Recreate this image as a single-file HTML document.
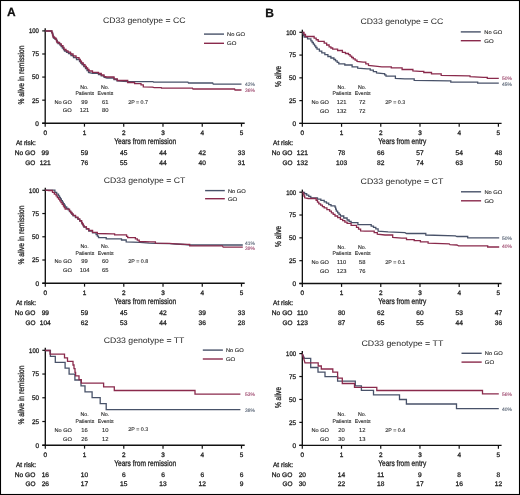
<!DOCTYPE html>
<html><head><meta charset="utf-8"><style>
html,body{margin:0;padding:0;background:#fff;}
svg{display:block;will-change:transform;}
text{stroke-width:0.32px;text-rendering:geometricPrecision;}
</style></head><body>
<svg width="520" height="495" viewBox="0 0 520 495" style="font-family:'Liberation Sans', sans-serif">
<rect x="0" y="0" width="520" height="495" fill="#fff"/>
<text x="6.9" y="16.4" font-size="12" font-weight="bold" fill="#111" stroke="#111" style="stroke-width:0.25px">A</text>
<text x="103.00" y="22.70" font-size="8.0" textLength="82.4" lengthAdjust="spacingAndGlyphs" fill="#2a2a2a" stroke="#2a2a2a" style="stroke-width:0.02px">CD33 genotype = CC</text>
<line x1="204" y1="34.1" x2="224" y2="34.1" stroke="#485269" stroke-width="1.4"/>
<line x1="204" y1="43.3" x2="224" y2="43.3" stroke="#8a2a4c" stroke-width="1.4"/>
<text x="227.00" y="36.20" font-size="5.4" textLength="17.9" lengthAdjust="spacingAndGlyphs" fill="#2a2a2a" stroke="#2a2a2a" style="stroke-width:0.12px">No GO</text>
<text x="227.00" y="45.30" font-size="5.4" textLength="9.3" lengthAdjust="spacingAndGlyphs" fill="#2a2a2a" stroke="#2a2a2a" style="stroke-width:0.12px">GO</text>
<line x1="45.2" y1="28.299999999999997" x2="45.2" y2="123.95" stroke="#111" stroke-width="1.35"/>
<line x1="42.2" y1="123.25" x2="244.7" y2="123.25" stroke="#111" stroke-width="1.35"/>
<line x1="42.2" y1="30.90" x2="45.2" y2="30.90" stroke="#111" stroke-width="1.2"/>
<text x="38.90" y="33.30" font-size="6.7" text-anchor="end" textLength="9.9" lengthAdjust="spacingAndGlyphs" fill="#2a2a2a" stroke="#2a2a2a">100</text>
<line x1="42.2" y1="53.99" x2="45.2" y2="53.99" stroke="#111" stroke-width="1.2"/>
<text x="38.90" y="56.39" font-size="6.7" text-anchor="end" textLength="7.0" lengthAdjust="spacingAndGlyphs" fill="#2a2a2a" stroke="#2a2a2a">75</text>
<line x1="42.2" y1="77.07" x2="45.2" y2="77.07" stroke="#111" stroke-width="1.2"/>
<text x="38.90" y="79.47" font-size="6.7" text-anchor="end" textLength="7.0" lengthAdjust="spacingAndGlyphs" fill="#2a2a2a" stroke="#2a2a2a">50</text>
<line x1="42.2" y1="100.16" x2="45.2" y2="100.16" stroke="#111" stroke-width="1.2"/>
<text x="38.90" y="102.56" font-size="6.7" text-anchor="end" textLength="7.0" lengthAdjust="spacingAndGlyphs" fill="#2a2a2a" stroke="#2a2a2a">25</text>
<line x1="42.2" y1="123.25" x2="45.2" y2="123.25" stroke="#111" stroke-width="1.2"/>
<text x="38.90" y="125.65" font-size="6.7" text-anchor="end" textLength="3.6" lengthAdjust="spacingAndGlyphs" fill="#2a2a2a" stroke="#2a2a2a">0</text>
<line x1="45.20" y1="123.25" x2="45.20" y2="126.65" stroke="#111" stroke-width="1.2"/>
<text x="45.20" y="134.85" font-size="6.4" text-anchor="middle" fill="#2a2a2a" stroke="#2a2a2a">0</text>
<line x1="84.46" y1="123.25" x2="84.46" y2="126.65" stroke="#111" stroke-width="1.2"/>
<text x="84.46" y="134.85" font-size="6.4" text-anchor="middle" fill="#2a2a2a" stroke="#2a2a2a">1</text>
<line x1="123.72" y1="123.25" x2="123.72" y2="126.65" stroke="#111" stroke-width="1.2"/>
<text x="123.72" y="134.85" font-size="6.4" text-anchor="middle" fill="#2a2a2a" stroke="#2a2a2a">2</text>
<line x1="162.98" y1="123.25" x2="162.98" y2="126.65" stroke="#111" stroke-width="1.2"/>
<text x="162.98" y="134.85" font-size="6.4" text-anchor="middle" fill="#2a2a2a" stroke="#2a2a2a">3</text>
<line x1="202.24" y1="123.25" x2="202.24" y2="126.65" stroke="#111" stroke-width="1.2"/>
<text x="202.24" y="134.85" font-size="6.4" text-anchor="middle" fill="#2a2a2a" stroke="#2a2a2a">4</text>
<line x1="241.50" y1="123.25" x2="241.50" y2="126.65" stroke="#111" stroke-width="1.2"/>
<text x="241.50" y="134.85" font-size="6.4" text-anchor="middle" fill="#2a2a2a" stroke="#2a2a2a">5</text>
<text x="114.20" y="143.75" font-size="8.2" textLength="62.0" lengthAdjust="spacingAndGlyphs" fill="#2a2a2a" stroke="#2a2a2a">Years from remission</text>
<text transform="translate(23.8,75) rotate(-90)" x="0" y="0" font-size="8.4" text-anchor="middle" textLength="59" lengthAdjust="spacingAndGlyphs" fill="#2a2a2a" stroke="#2a2a2a">% alive in remission</text>
<polyline points="45.50,31.00 50.70,31.00 51.60,31.00 51.60,32.50 52.50,32.50 52.50,34.00 53.00,34.00 53.00,36.00 53.50,36.00 53.50,38.00 55.00,38.00 55.00,39.25 56.50,39.25 56.50,40.50 57.25,40.50 57.25,42.00 58.00,42.00 58.00,43.50 60.00,43.50 60.00,45.00 61.17,45.00 61.17,46.50 62.33,46.50 62.33,48.00 63.50,48.00 63.50,49.50 64.50,49.50 64.50,51.00 66.50,51.00 66.50,52.25 68.50,52.25 68.50,53.50 71.00,53.50 71.00,55.50 73.50,55.50 73.50,57.50 76.50,57.50 76.50,59.50 79.50,59.50 79.50,61.50 80.75,61.50 80.75,63.00 82.00,63.00 82.00,64.50 83.75,64.50 83.75,66.50 85.50,66.50 85.50,68.50 87.00,68.50 87.00,70.50 88.50,70.50 88.50,72.50 92.50,73.30 98.50,73.30 98.50,74.50 101.25,74.50 101.25,75.90 104.00,75.90 104.00,77.30 107.00,78.00 114.00,78.00 114.00,79.50 117.00,79.50 117.00,81.00 127.70,81.60 153.00,81.60 153.60,82.20 187.90,82.20 188.50,83.00 212.70,83.00 213.30,84.20 241.50,84.20" fill="none" stroke="#485269" stroke-width="1.3" stroke-linejoin="miter"/>
<polyline points="45.50,31.00 50.70,31.00 52.00,31.00 52.00,33.00 52.50,33.00 52.50,35.00 53.00,35.00 53.00,37.00 54.50,37.00 54.50,38.25 56.00,38.25 56.00,39.50 56.50,39.50 56.50,41.00 57.00,41.00 57.00,42.50 59.50,42.50 59.50,43.80 61.25,43.80 61.25,45.55 63.00,45.55 63.00,47.30 64.00,47.30 64.00,49.50 66.00,49.50 66.00,50.85 68.00,50.85 68.00,52.20 70.50,52.20 70.50,54.00 73.00,54.00 73.00,55.80 76.00,55.80 76.00,57.55 79.00,57.55 79.00,59.30 80.25,59.30 80.25,61.15 81.50,61.15 81.50,63.00 83.25,63.00 83.25,64.75 85.00,64.75 85.00,66.50 86.33,66.50 86.33,68.00 87.67,68.00 87.67,69.50 89.00,69.50 89.00,71.00 92.50,71.00 92.50,72.30 98.50,72.30 98.50,73.50 101.25,73.50 101.25,75.00 104.00,75.00 104.00,76.50 107.00,77.00 114.00,77.00 114.00,78.80 117.30,78.80 117.30,80.50 127.70,80.50 127.70,82.50 134.60,82.50 134.60,83.60 141.00,83.60 141.00,84.80 143.30,84.80 143.30,86.80 152.50,87.10 154.20,87.70 161.30,87.70 161.50,88.20 192.50,88.20 193.00,89.00 234.60,89.00 235.00,90.00 241.50,90.00" fill="none" stroke="#8a2a4c" stroke-width="1.3" stroke-linejoin="miter"/>
<text x="245.10" y="85.60" font-size="5.0" textLength="9.8" lengthAdjust="spacingAndGlyphs" fill="#4e5a6c" stroke="#4e5a6c" style="stroke-width:0.1px">42%</text>
<text x="245.10" y="91.70" font-size="5.0" textLength="9.8" lengthAdjust="spacingAndGlyphs" fill="#9a4068" stroke="#9a4068" style="stroke-width:0.1px">36%</text>
<text x="84.40" y="88.70" font-size="5.3" text-anchor="middle" fill="#2a2a2a" stroke="#2a2a2a" style="stroke-width:0.12px">No.</text>
<text x="84.80" y="95.10" font-size="5.3" text-anchor="middle" textLength="18.8" lengthAdjust="spacingAndGlyphs" fill="#2a2a2a" stroke="#2a2a2a" style="stroke-width:0.12px">Patients</text>
<text x="105.00" y="88.70" font-size="5.3" text-anchor="middle" fill="#2a2a2a" stroke="#2a2a2a" style="stroke-width:0.12px">No.</text>
<text x="105.50" y="95.10" font-size="5.3" text-anchor="middle" textLength="15.8" lengthAdjust="spacingAndGlyphs" fill="#2a2a2a" stroke="#2a2a2a" style="stroke-width:0.12px">Events</text>
<text x="71.80" y="103.70" font-size="5.3" text-anchor="end" textLength="17.4" lengthAdjust="spacingAndGlyphs" fill="#2a2a2a" stroke="#2a2a2a" style="stroke-width:0.12px">No GO</text>
<text x="71.80" y="112.20" font-size="5.3" text-anchor="end" textLength="9.0" lengthAdjust="spacingAndGlyphs" fill="#2a2a2a" stroke="#2a2a2a" style="stroke-width:0.12px">GO</text>
<text x="84.50" y="103.90" font-size="5.8" text-anchor="middle" fill="#2a2a2a" stroke="#2a2a2a" style="stroke-width:0.12px">99</text>
<text x="84.50" y="112.40" font-size="5.8" text-anchor="middle" fill="#2a2a2a" stroke="#2a2a2a" style="stroke-width:0.12px">121</text>
<text x="105.20" y="103.90" font-size="5.8" text-anchor="middle" fill="#2a2a2a" stroke="#2a2a2a" style="stroke-width:0.12px">61</text>
<text x="105.20" y="112.40" font-size="5.8" text-anchor="middle" fill="#2a2a2a" stroke="#2a2a2a" style="stroke-width:0.12px">80</text>
<text x="128.20" y="103.50" font-size="5.3" textLength="19.8" lengthAdjust="spacingAndGlyphs" fill="#2a2a2a" stroke="#2a2a2a" style="stroke-width:0.12px">2P = 0.7</text>
<text x="15.90" y="144.80" font-size="6.6" textLength="20" lengthAdjust="spacingAndGlyphs" fill="#2a2a2a" stroke="#2a2a2a">At risk:</text>
<text x="35.30" y="155.10" font-size="6.6" text-anchor="end" textLength="20.6" lengthAdjust="spacingAndGlyphs" fill="#2a2a2a" stroke="#2a2a2a">No GO</text>
<text x="35.30" y="165.00" font-size="6.6" text-anchor="end" textLength="10" lengthAdjust="spacingAndGlyphs" fill="#2a2a2a" stroke="#2a2a2a">GO</text>
<text x="45.20" y="155.10" font-size="6.6" text-anchor="middle" fill="#2a2a2a" stroke="#2a2a2a">99</text>
<text x="45.20" y="165.00" font-size="6.6" text-anchor="middle" fill="#2a2a2a" stroke="#2a2a2a">121</text>
<text x="84.46" y="155.10" font-size="6.6" text-anchor="middle" fill="#2a2a2a" stroke="#2a2a2a">59</text>
<text x="84.46" y="165.00" font-size="6.6" text-anchor="middle" fill="#2a2a2a" stroke="#2a2a2a">76</text>
<text x="123.72" y="155.10" font-size="6.6" text-anchor="middle" fill="#2a2a2a" stroke="#2a2a2a">45</text>
<text x="123.72" y="165.00" font-size="6.6" text-anchor="middle" fill="#2a2a2a" stroke="#2a2a2a">55</text>
<text x="162.98" y="155.10" font-size="6.6" text-anchor="middle" fill="#2a2a2a" stroke="#2a2a2a">44</text>
<text x="162.98" y="165.00" font-size="6.6" text-anchor="middle" fill="#2a2a2a" stroke="#2a2a2a">44</text>
<text x="202.24" y="155.10" font-size="6.6" text-anchor="middle" fill="#2a2a2a" stroke="#2a2a2a">42</text>
<text x="202.24" y="165.00" font-size="6.6" text-anchor="middle" fill="#2a2a2a" stroke="#2a2a2a">40</text>
<text x="241.50" y="155.10" font-size="6.6" text-anchor="middle" fill="#2a2a2a" stroke="#2a2a2a">33</text>
<text x="241.50" y="165.00" font-size="6.6" text-anchor="middle" fill="#2a2a2a" stroke="#2a2a2a">31</text>
<text x="103.70" y="182.70" font-size="8.0" textLength="81.7" lengthAdjust="spacingAndGlyphs" fill="#2a2a2a" stroke="#2a2a2a" style="stroke-width:0.02px">CD33 genotype = CT</text>
<line x1="205.1" y1="190.6" x2="224.8" y2="190.6" stroke="#485269" stroke-width="1.4"/>
<line x1="205.1" y1="198.7" x2="224.8" y2="198.7" stroke="#8a2a4c" stroke-width="1.4"/>
<text x="227.90" y="192.70" font-size="5.4" textLength="17.9" lengthAdjust="spacingAndGlyphs" fill="#2a2a2a" stroke="#2a2a2a" style="stroke-width:0.12px">No GO</text>
<text x="227.90" y="200.70" font-size="5.4" textLength="9.3" lengthAdjust="spacingAndGlyphs" fill="#2a2a2a" stroke="#2a2a2a" style="stroke-width:0.12px">GO</text>
<line x1="45.3" y1="187.70000000000002" x2="45.3" y2="283.95" stroke="#111" stroke-width="1.35"/>
<line x1="42.3" y1="283.25" x2="244.7" y2="283.25" stroke="#111" stroke-width="1.35"/>
<line x1="42.3" y1="190.30" x2="45.3" y2="190.30" stroke="#111" stroke-width="1.2"/>
<text x="39.00" y="192.70" font-size="6.7" text-anchor="end" textLength="9.9" lengthAdjust="spacingAndGlyphs" fill="#2a2a2a" stroke="#2a2a2a">100</text>
<line x1="42.3" y1="213.54" x2="45.3" y2="213.54" stroke="#111" stroke-width="1.2"/>
<text x="39.00" y="215.94" font-size="6.7" text-anchor="end" textLength="7.0" lengthAdjust="spacingAndGlyphs" fill="#2a2a2a" stroke="#2a2a2a">75</text>
<line x1="42.3" y1="236.78" x2="45.3" y2="236.78" stroke="#111" stroke-width="1.2"/>
<text x="39.00" y="239.18" font-size="6.7" text-anchor="end" textLength="7.0" lengthAdjust="spacingAndGlyphs" fill="#2a2a2a" stroke="#2a2a2a">50</text>
<line x1="42.3" y1="260.01" x2="45.3" y2="260.01" stroke="#111" stroke-width="1.2"/>
<text x="39.00" y="262.41" font-size="6.7" text-anchor="end" textLength="7.0" lengthAdjust="spacingAndGlyphs" fill="#2a2a2a" stroke="#2a2a2a">25</text>
<line x1="42.3" y1="283.25" x2="45.3" y2="283.25" stroke="#111" stroke-width="1.2"/>
<text x="39.00" y="285.65" font-size="6.7" text-anchor="end" textLength="3.6" lengthAdjust="spacingAndGlyphs" fill="#2a2a2a" stroke="#2a2a2a">0</text>
<line x1="45.30" y1="283.25" x2="45.30" y2="286.65" stroke="#111" stroke-width="1.2"/>
<text x="45.30" y="294.85" font-size="6.4" text-anchor="middle" fill="#2a2a2a" stroke="#2a2a2a">0</text>
<line x1="84.54" y1="283.25" x2="84.54" y2="286.65" stroke="#111" stroke-width="1.2"/>
<text x="84.54" y="294.85" font-size="6.4" text-anchor="middle" fill="#2a2a2a" stroke="#2a2a2a">1</text>
<line x1="123.78" y1="283.25" x2="123.78" y2="286.65" stroke="#111" stroke-width="1.2"/>
<text x="123.78" y="294.85" font-size="6.4" text-anchor="middle" fill="#2a2a2a" stroke="#2a2a2a">2</text>
<line x1="163.02" y1="283.25" x2="163.02" y2="286.65" stroke="#111" stroke-width="1.2"/>
<text x="163.02" y="294.85" font-size="6.4" text-anchor="middle" fill="#2a2a2a" stroke="#2a2a2a">3</text>
<line x1="202.26" y1="283.25" x2="202.26" y2="286.65" stroke="#111" stroke-width="1.2"/>
<text x="202.26" y="294.85" font-size="6.4" text-anchor="middle" fill="#2a2a2a" stroke="#2a2a2a">4</text>
<line x1="241.50" y1="283.25" x2="241.50" y2="286.65" stroke="#111" stroke-width="1.2"/>
<text x="241.50" y="294.85" font-size="6.4" text-anchor="middle" fill="#2a2a2a" stroke="#2a2a2a">5</text>
<text x="114.20" y="303.75" font-size="8.2" textLength="62.0" lengthAdjust="spacingAndGlyphs" fill="#2a2a2a" stroke="#2a2a2a">Years from remission</text>
<text transform="translate(23.8,235) rotate(-90)" x="0" y="0" font-size="8.4" text-anchor="middle" textLength="59" lengthAdjust="spacingAndGlyphs" fill="#2a2a2a" stroke="#2a2a2a">% alive in remission</text>
<polyline points="45.30,190.20 54.90,190.20 54.90,192.30 56.70,192.30 56.70,194.10 58.50,194.10 58.50,195.90 59.46,195.90 59.46,197.46 60.41,197.46 60.41,199.01 61.37,199.01 61.37,200.57 62.33,200.57 62.33,202.13 63.29,202.13 63.29,203.69 64.24,203.69 64.24,205.24 65.20,205.24 65.20,206.80 66.70,206.80 66.70,208.30 68.20,208.30 68.20,209.80 69.50,209.80 69.50,211.50 70.70,211.50 70.70,212.93 71.90,212.93 71.90,214.37 73.10,214.37 73.10,215.80 75.50,215.80 75.50,217.55 77.90,217.55 77.90,219.30 79.75,219.30 79.75,221.15 81.60,221.15 81.60,223.00 82.40,223.00 82.40,224.40 83.20,224.40 83.20,225.80 84.00,225.80 84.00,227.20 86.40,227.20 86.40,229.10 88.80,229.10 88.80,231.00 92.50,231.00 92.50,232.80 96.10,232.80 96.10,234.70 97.30,234.70 97.30,236.20 98.50,236.20 98.50,237.70 106.20,237.70 106.20,238.80 121.50,238.80 121.50,240.00 126.20,240.00 126.20,241.80 140.00,242.30 149.20,243.10 155.40,243.30 169.20,243.60 175.40,244.00 184.80,244.50 189.70,245.00 242.80,245.00" fill="none" stroke="#485269" stroke-width="1.3" stroke-linejoin="miter"/>
<polyline points="45.30,190.20 48.80,190.50 52.50,190.50 52.50,192.30 54.30,192.30 54.30,194.10 56.10,194.10 56.10,195.90 57.33,195.90 57.33,197.53 58.57,197.53 58.57,199.17 59.80,199.17 59.80,200.80 61.00,200.80 61.00,202.60 62.20,202.60 62.20,204.40 63.40,204.40 63.40,206.20 64.30,206.20 64.30,207.70 65.20,207.70 65.20,209.20 69.50,209.20 69.50,211.10 70.70,211.10 70.70,212.50 71.90,212.50 71.90,213.90 73.10,213.90 73.10,215.30 75.50,215.30 75.50,217.10 77.90,217.10 77.90,218.90 79.75,218.90 79.75,220.75 81.60,220.75 81.60,222.60 82.40,222.60 82.40,224.00 83.20,224.00 83.20,225.40 84.00,225.40 84.00,226.80 86.40,226.80 86.40,228.65 88.80,228.65 88.80,230.50 92.50,230.50 92.50,232.30 97.30,232.30 97.30,233.50 112.30,233.80 114.60,233.80 114.60,234.90 125.40,234.90 126.55,234.90 126.55,236.30 127.70,236.30 127.70,237.70 135.40,237.70 135.40,238.80 137.30,238.80 137.30,240.15 139.20,240.15 139.20,241.50 150.80,241.80 155.40,241.80 155.40,243.10 169.20,243.40 175.40,243.80 184.80,244.40 189.70,244.40 189.70,245.80 222.40,245.80 223.20,247.20 242.80,247.20" fill="none" stroke="#8a2a4c" stroke-width="1.3" stroke-linejoin="miter"/>
<text x="245.10" y="244.80" font-size="5.0" textLength="9.8" lengthAdjust="spacingAndGlyphs" fill="#4e5a6c" stroke="#4e5a6c" style="stroke-width:0.1px">41%</text>
<text x="245.10" y="249.70" font-size="5.0" textLength="9.8" lengthAdjust="spacingAndGlyphs" fill="#9a4068" stroke="#9a4068" style="stroke-width:0.1px">39%</text>
<text x="84.50" y="248.20" font-size="5.3" text-anchor="middle" fill="#2a2a2a" stroke="#2a2a2a" style="stroke-width:0.12px">No.</text>
<text x="84.90" y="254.60" font-size="5.3" text-anchor="middle" textLength="18.8" lengthAdjust="spacingAndGlyphs" fill="#2a2a2a" stroke="#2a2a2a" style="stroke-width:0.12px">Patients</text>
<text x="105.10" y="248.20" font-size="5.3" text-anchor="middle" fill="#2a2a2a" stroke="#2a2a2a" style="stroke-width:0.12px">No.</text>
<text x="105.60" y="254.60" font-size="5.3" text-anchor="middle" textLength="15.8" lengthAdjust="spacingAndGlyphs" fill="#2a2a2a" stroke="#2a2a2a" style="stroke-width:0.12px">Events</text>
<text x="71.90" y="263.20" font-size="5.3" text-anchor="end" textLength="17.4" lengthAdjust="spacingAndGlyphs" fill="#2a2a2a" stroke="#2a2a2a" style="stroke-width:0.12px">No GO</text>
<text x="71.90" y="271.70" font-size="5.3" text-anchor="end" textLength="9.0" lengthAdjust="spacingAndGlyphs" fill="#2a2a2a" stroke="#2a2a2a" style="stroke-width:0.12px">GO</text>
<text x="84.60" y="263.40" font-size="5.8" text-anchor="middle" fill="#2a2a2a" stroke="#2a2a2a" style="stroke-width:0.12px">99</text>
<text x="84.60" y="271.90" font-size="5.8" text-anchor="middle" fill="#2a2a2a" stroke="#2a2a2a" style="stroke-width:0.12px">104</text>
<text x="105.30" y="263.40" font-size="5.8" text-anchor="middle" fill="#2a2a2a" stroke="#2a2a2a" style="stroke-width:0.12px">60</text>
<text x="105.30" y="271.90" font-size="5.8" text-anchor="middle" fill="#2a2a2a" stroke="#2a2a2a" style="stroke-width:0.12px">65</text>
<text x="128.30" y="263.00" font-size="5.3" textLength="19.8" lengthAdjust="spacingAndGlyphs" fill="#2a2a2a" stroke="#2a2a2a" style="stroke-width:0.12px">2P = 0.8</text>
<text x="16.00" y="304.80" font-size="6.6" textLength="20" lengthAdjust="spacingAndGlyphs" fill="#2a2a2a" stroke="#2a2a2a">At risk:</text>
<text x="35.40" y="315.00" font-size="6.6" text-anchor="end" textLength="20.6" lengthAdjust="spacingAndGlyphs" fill="#2a2a2a" stroke="#2a2a2a">No GO</text>
<text x="35.40" y="324.80" font-size="6.6" text-anchor="end" textLength="10" lengthAdjust="spacingAndGlyphs" fill="#2a2a2a" stroke="#2a2a2a">GO</text>
<text x="45.30" y="315.00" font-size="6.6" text-anchor="middle" fill="#2a2a2a" stroke="#2a2a2a">99</text>
<text x="45.30" y="324.80" font-size="6.6" text-anchor="middle" fill="#2a2a2a" stroke="#2a2a2a">104</text>
<text x="84.54" y="315.00" font-size="6.6" text-anchor="middle" fill="#2a2a2a" stroke="#2a2a2a">59</text>
<text x="84.54" y="324.80" font-size="6.6" text-anchor="middle" fill="#2a2a2a" stroke="#2a2a2a">62</text>
<text x="123.78" y="315.00" font-size="6.6" text-anchor="middle" fill="#2a2a2a" stroke="#2a2a2a">45</text>
<text x="123.78" y="324.80" font-size="6.6" text-anchor="middle" fill="#2a2a2a" stroke="#2a2a2a">53</text>
<text x="163.02" y="315.00" font-size="6.6" text-anchor="middle" fill="#2a2a2a" stroke="#2a2a2a">42</text>
<text x="163.02" y="324.80" font-size="6.6" text-anchor="middle" fill="#2a2a2a" stroke="#2a2a2a">44</text>
<text x="202.26" y="315.00" font-size="6.6" text-anchor="middle" fill="#2a2a2a" stroke="#2a2a2a">39</text>
<text x="202.26" y="324.80" font-size="6.6" text-anchor="middle" fill="#2a2a2a" stroke="#2a2a2a">36</text>
<text x="241.50" y="315.00" font-size="6.6" text-anchor="middle" fill="#2a2a2a" stroke="#2a2a2a">33</text>
<text x="241.50" y="324.80" font-size="6.6" text-anchor="middle" fill="#2a2a2a" stroke="#2a2a2a">28</text>
<text x="103.70" y="342.60" font-size="8.0" textLength="80.7" lengthAdjust="spacingAndGlyphs" fill="#2a2a2a" stroke="#2a2a2a" style="stroke-width:0.02px">CD33 genotype = TT</text>
<line x1="202.8" y1="350.1" x2="222.9" y2="350.1" stroke="#485269" stroke-width="1.4"/>
<line x1="202.8" y1="359.0" x2="222.9" y2="359.0" stroke="#8a2a4c" stroke-width="1.4"/>
<text x="225.90" y="352.20" font-size="5.4" textLength="17.9" lengthAdjust="spacingAndGlyphs" fill="#2a2a2a" stroke="#2a2a2a" style="stroke-width:0.12px">No GO</text>
<text x="225.90" y="361.00" font-size="5.4" textLength="9.3" lengthAdjust="spacingAndGlyphs" fill="#2a2a2a" stroke="#2a2a2a" style="stroke-width:0.12px">GO</text>
<line x1="45.3" y1="347.7" x2="45.3" y2="445.95" stroke="#111" stroke-width="1.35"/>
<line x1="42.3" y1="445.25" x2="244.7" y2="445.25" stroke="#111" stroke-width="1.35"/>
<line x1="42.3" y1="350.30" x2="45.3" y2="350.30" stroke="#111" stroke-width="1.2"/>
<text x="39.00" y="352.70" font-size="6.7" text-anchor="end" textLength="9.9" lengthAdjust="spacingAndGlyphs" fill="#2a2a2a" stroke="#2a2a2a">100</text>
<line x1="42.3" y1="374.04" x2="45.3" y2="374.04" stroke="#111" stroke-width="1.2"/>
<text x="39.00" y="376.44" font-size="6.7" text-anchor="end" textLength="7.0" lengthAdjust="spacingAndGlyphs" fill="#2a2a2a" stroke="#2a2a2a">75</text>
<line x1="42.3" y1="397.77" x2="45.3" y2="397.77" stroke="#111" stroke-width="1.2"/>
<text x="39.00" y="400.17" font-size="6.7" text-anchor="end" textLength="7.0" lengthAdjust="spacingAndGlyphs" fill="#2a2a2a" stroke="#2a2a2a">50</text>
<line x1="42.3" y1="421.51" x2="45.3" y2="421.51" stroke="#111" stroke-width="1.2"/>
<text x="39.00" y="423.91" font-size="6.7" text-anchor="end" textLength="7.0" lengthAdjust="spacingAndGlyphs" fill="#2a2a2a" stroke="#2a2a2a">25</text>
<line x1="42.3" y1="445.25" x2="45.3" y2="445.25" stroke="#111" stroke-width="1.2"/>
<text x="39.00" y="447.65" font-size="6.7" text-anchor="end" textLength="3.6" lengthAdjust="spacingAndGlyphs" fill="#2a2a2a" stroke="#2a2a2a">0</text>
<line x1="45.30" y1="445.25" x2="45.30" y2="448.65" stroke="#111" stroke-width="1.2"/>
<text x="45.30" y="456.85" font-size="6.4" text-anchor="middle" fill="#2a2a2a" stroke="#2a2a2a">0</text>
<line x1="84.54" y1="445.25" x2="84.54" y2="448.65" stroke="#111" stroke-width="1.2"/>
<text x="84.54" y="456.85" font-size="6.4" text-anchor="middle" fill="#2a2a2a" stroke="#2a2a2a">1</text>
<line x1="123.78" y1="445.25" x2="123.78" y2="448.65" stroke="#111" stroke-width="1.2"/>
<text x="123.78" y="456.85" font-size="6.4" text-anchor="middle" fill="#2a2a2a" stroke="#2a2a2a">2</text>
<line x1="163.02" y1="445.25" x2="163.02" y2="448.65" stroke="#111" stroke-width="1.2"/>
<text x="163.02" y="456.85" font-size="6.4" text-anchor="middle" fill="#2a2a2a" stroke="#2a2a2a">3</text>
<line x1="202.26" y1="445.25" x2="202.26" y2="448.65" stroke="#111" stroke-width="1.2"/>
<text x="202.26" y="456.85" font-size="6.4" text-anchor="middle" fill="#2a2a2a" stroke="#2a2a2a">4</text>
<line x1="241.50" y1="445.25" x2="241.50" y2="448.65" stroke="#111" stroke-width="1.2"/>
<text x="241.50" y="456.85" font-size="6.4" text-anchor="middle" fill="#2a2a2a" stroke="#2a2a2a">5</text>
<text x="114.20" y="465.75" font-size="8.2" textLength="62.0" lengthAdjust="spacingAndGlyphs" fill="#2a2a2a" stroke="#2a2a2a">Years from remission</text>
<text transform="translate(23.8,395) rotate(-90)" x="0" y="0" font-size="8.4" text-anchor="middle" textLength="59" lengthAdjust="spacingAndGlyphs" fill="#2a2a2a" stroke="#2a2a2a">% alive in remission</text>
<polyline points="45.20,350.50 50.40,350.50 50.40,356.40 55.30,356.40 55.30,362.30 65.10,362.30 65.10,368.20 69.10,368.20 69.10,374.10 74.90,374.10 74.90,380.00 81.00,380.00 81.00,385.90 85.00,385.90 85.00,391.80 92.10,391.80 92.10,397.70 100.20,397.70 100.20,403.70 106.20,403.70 106.20,409.60 240.40,409.60" fill="none" stroke="#485269" stroke-width="1.3" stroke-linejoin="miter"/>
<polyline points="45.20,350.50 50.00,350.50 50.00,354.10 64.50,354.10 64.50,357.80 67.50,357.80 67.50,361.40 73.00,361.40 73.00,365.00 74.00,365.00 74.00,368.70 75.00,368.70 75.00,372.30 75.60,372.30 75.60,375.90 79.00,375.90 79.00,379.60 81.30,379.60 81.30,383.20 103.60,383.20 103.60,386.90 114.30,386.90 114.30,390.50 195.00,390.50 195.00,394.20 240.40,394.20" fill="none" stroke="#8a2a4c" stroke-width="1.3" stroke-linejoin="miter"/>
<text x="245.10" y="411.80" font-size="5.0" textLength="9.8" lengthAdjust="spacingAndGlyphs" fill="#4e5a6c" stroke="#4e5a6c" style="stroke-width:0.1px">38%</text>
<text x="245.10" y="396.30" font-size="5.0" textLength="9.8" lengthAdjust="spacingAndGlyphs" fill="#9a4068" stroke="#9a4068" style="stroke-width:0.1px">53%</text>
<text x="84.50" y="416.30" font-size="5.3" text-anchor="middle" fill="#2a2a2a" stroke="#2a2a2a" style="stroke-width:0.12px">No.</text>
<text x="84.90" y="423.00" font-size="5.3" text-anchor="middle" textLength="18.8" lengthAdjust="spacingAndGlyphs" fill="#2a2a2a" stroke="#2a2a2a" style="stroke-width:0.12px">Patients</text>
<text x="105.10" y="416.30" font-size="5.3" text-anchor="middle" fill="#2a2a2a" stroke="#2a2a2a" style="stroke-width:0.12px">No.</text>
<text x="105.60" y="423.00" font-size="5.3" text-anchor="middle" textLength="15.8" lengthAdjust="spacingAndGlyphs" fill="#2a2a2a" stroke="#2a2a2a" style="stroke-width:0.12px">Events</text>
<text x="71.90" y="431.50" font-size="5.3" text-anchor="end" textLength="17.4" lengthAdjust="spacingAndGlyphs" fill="#2a2a2a" stroke="#2a2a2a" style="stroke-width:0.12px">No GO</text>
<text x="71.90" y="440.50" font-size="5.3" text-anchor="end" textLength="9.0" lengthAdjust="spacingAndGlyphs" fill="#2a2a2a" stroke="#2a2a2a" style="stroke-width:0.12px">GO</text>
<text x="84.60" y="431.70" font-size="5.8" text-anchor="middle" fill="#2a2a2a" stroke="#2a2a2a" style="stroke-width:0.12px">16</text>
<text x="84.60" y="440.70" font-size="5.8" text-anchor="middle" fill="#2a2a2a" stroke="#2a2a2a" style="stroke-width:0.12px">26</text>
<text x="105.30" y="431.70" font-size="5.8" text-anchor="middle" fill="#2a2a2a" stroke="#2a2a2a" style="stroke-width:0.12px">10</text>
<text x="105.30" y="440.70" font-size="5.8" text-anchor="middle" fill="#2a2a2a" stroke="#2a2a2a" style="stroke-width:0.12px">12</text>
<text x="128.30" y="431.30" font-size="5.3" textLength="19.8" lengthAdjust="spacingAndGlyphs" fill="#2a2a2a" stroke="#2a2a2a" style="stroke-width:0.12px">2P = 0.3</text>
<text x="16.00" y="466.90" font-size="6.6" textLength="20" lengthAdjust="spacingAndGlyphs" fill="#2a2a2a" stroke="#2a2a2a">At risk:</text>
<text x="35.40" y="476.70" font-size="6.6" text-anchor="end" textLength="20.6" lengthAdjust="spacingAndGlyphs" fill="#2a2a2a" stroke="#2a2a2a">No GO</text>
<text x="35.40" y="486.20" font-size="6.6" text-anchor="end" textLength="10" lengthAdjust="spacingAndGlyphs" fill="#2a2a2a" stroke="#2a2a2a">GO</text>
<text x="45.30" y="476.70" font-size="6.6" text-anchor="middle" fill="#2a2a2a" stroke="#2a2a2a">16</text>
<text x="45.30" y="486.20" font-size="6.6" text-anchor="middle" fill="#2a2a2a" stroke="#2a2a2a">26</text>
<text x="84.54" y="476.70" font-size="6.6" text-anchor="middle" fill="#2a2a2a" stroke="#2a2a2a">10</text>
<text x="84.54" y="486.20" font-size="6.6" text-anchor="middle" fill="#2a2a2a" stroke="#2a2a2a">17</text>
<text x="123.78" y="476.70" font-size="6.6" text-anchor="middle" fill="#2a2a2a" stroke="#2a2a2a">6</text>
<text x="123.78" y="486.20" font-size="6.6" text-anchor="middle" fill="#2a2a2a" stroke="#2a2a2a">15</text>
<text x="163.02" y="476.70" font-size="6.6" text-anchor="middle" fill="#2a2a2a" stroke="#2a2a2a">6</text>
<text x="163.02" y="486.20" font-size="6.6" text-anchor="middle" fill="#2a2a2a" stroke="#2a2a2a">13</text>
<text x="202.26" y="476.70" font-size="6.6" text-anchor="middle" fill="#2a2a2a" stroke="#2a2a2a">6</text>
<text x="202.26" y="486.20" font-size="6.6" text-anchor="middle" fill="#2a2a2a" stroke="#2a2a2a">12</text>
<text x="241.50" y="476.70" font-size="6.6" text-anchor="middle" fill="#2a2a2a" stroke="#2a2a2a">6</text>
<text x="241.50" y="486.20" font-size="6.6" text-anchor="middle" fill="#2a2a2a" stroke="#2a2a2a">9</text>
<text x="265.3" y="16.7" font-size="12" font-weight="bold" fill="#111" stroke="#111" style="stroke-width:0.25px">B</text>
<text x="360.60" y="23.90" font-size="8.0" textLength="82.7" lengthAdjust="spacingAndGlyphs" fill="#2a2a2a" stroke="#2a2a2a" style="stroke-width:0.02px">CD33 genotype = CC</text>
<line x1="460.8" y1="31.9" x2="480.8" y2="31.9" stroke="#485269" stroke-width="1.4"/>
<line x1="460.8" y1="40.7" x2="480.8" y2="40.7" stroke="#8a2a4c" stroke-width="1.4"/>
<text x="484.30" y="34.00" font-size="5.4" textLength="17.9" lengthAdjust="spacingAndGlyphs" fill="#2a2a2a" stroke="#2a2a2a" style="stroke-width:0.12px">No GO</text>
<text x="484.30" y="42.70" font-size="5.4" textLength="9.3" lengthAdjust="spacingAndGlyphs" fill="#2a2a2a" stroke="#2a2a2a" style="stroke-width:0.12px">GO</text>
<line x1="302.35" y1="29.699999999999996" x2="302.35" y2="124.10000000000001" stroke="#111" stroke-width="1.35"/>
<line x1="299.35" y1="123.4" x2="501.59999999999997" y2="123.4" stroke="#111" stroke-width="1.35"/>
<line x1="299.35" y1="32.30" x2="302.35" y2="32.30" stroke="#111" stroke-width="1.2"/>
<text x="296.05" y="34.70" font-size="6.7" text-anchor="end" textLength="9.9" lengthAdjust="spacingAndGlyphs" fill="#2a2a2a" stroke="#2a2a2a">100</text>
<line x1="299.35" y1="55.08" x2="302.35" y2="55.08" stroke="#111" stroke-width="1.2"/>
<text x="296.05" y="57.48" font-size="6.7" text-anchor="end" textLength="7.0" lengthAdjust="spacingAndGlyphs" fill="#2a2a2a" stroke="#2a2a2a">75</text>
<line x1="299.35" y1="77.85" x2="302.35" y2="77.85" stroke="#111" stroke-width="1.2"/>
<text x="296.05" y="80.25" font-size="6.7" text-anchor="end" textLength="7.0" lengthAdjust="spacingAndGlyphs" fill="#2a2a2a" stroke="#2a2a2a">50</text>
<line x1="299.35" y1="100.62" x2="302.35" y2="100.62" stroke="#111" stroke-width="1.2"/>
<text x="296.05" y="103.03" font-size="6.7" text-anchor="end" textLength="7.0" lengthAdjust="spacingAndGlyphs" fill="#2a2a2a" stroke="#2a2a2a">25</text>
<line x1="299.35" y1="123.40" x2="302.35" y2="123.40" stroke="#111" stroke-width="1.2"/>
<text x="296.05" y="125.80" font-size="6.7" text-anchor="end" textLength="3.6" lengthAdjust="spacingAndGlyphs" fill="#2a2a2a" stroke="#2a2a2a">0</text>
<line x1="302.35" y1="123.4" x2="302.35" y2="126.80000000000001" stroke="#111" stroke-width="1.2"/>
<text x="302.35" y="135.00" font-size="6.4" text-anchor="middle" fill="#2a2a2a" stroke="#2a2a2a">0</text>
<line x1="341.56" y1="123.4" x2="341.56" y2="126.80000000000001" stroke="#111" stroke-width="1.2"/>
<text x="341.56" y="135.00" font-size="6.4" text-anchor="middle" fill="#2a2a2a" stroke="#2a2a2a">1</text>
<line x1="380.77" y1="123.4" x2="380.77" y2="126.80000000000001" stroke="#111" stroke-width="1.2"/>
<text x="380.77" y="135.00" font-size="6.4" text-anchor="middle" fill="#2a2a2a" stroke="#2a2a2a">2</text>
<line x1="419.98" y1="123.4" x2="419.98" y2="126.80000000000001" stroke="#111" stroke-width="1.2"/>
<text x="419.98" y="135.00" font-size="6.4" text-anchor="middle" fill="#2a2a2a" stroke="#2a2a2a">3</text>
<line x1="459.19" y1="123.4" x2="459.19" y2="126.80000000000001" stroke="#111" stroke-width="1.2"/>
<text x="459.19" y="135.00" font-size="6.4" text-anchor="middle" fill="#2a2a2a" stroke="#2a2a2a">4</text>
<line x1="498.40" y1="123.4" x2="498.40" y2="126.80000000000001" stroke="#111" stroke-width="1.2"/>
<text x="498.40" y="135.00" font-size="6.4" text-anchor="middle" fill="#2a2a2a" stroke="#2a2a2a">5</text>
<text x="378.20" y="143.90" font-size="8.2" textLength="48.0" lengthAdjust="spacingAndGlyphs" fill="#2a2a2a" stroke="#2a2a2a">Years from entry</text>
<text transform="translate(280.8,76.4) rotate(-90)" x="0" y="0" font-size="8.6" text-anchor="middle" textLength="21" lengthAdjust="spacingAndGlyphs" fill="#2a2a2a" stroke="#2a2a2a">% alive</text>
<polyline points="302.50,32.50 303.07,32.50 303.07,34.03 303.63,34.03 303.63,35.57 304.20,35.57 304.20,37.10 307.55,37.10 307.55,38.95 310.90,38.95 310.90,40.80 312.12,40.80 312.12,42.48 313.34,42.48 313.34,44.16 314.56,44.16 314.56,45.84 315.78,45.84 315.78,47.52 317.00,47.52 317.00,49.20 319.40,49.20 319.40,51.05 321.80,51.05 321.80,52.90 324.85,52.90 324.85,54.70 327.90,54.70 327.90,56.50 330.90,56.50 330.90,58.00 333.90,58.00 333.90,59.50 335.53,59.50 335.53,60.93 337.17,60.93 337.17,62.37 338.80,62.37 338.80,63.80 344.80,63.80 344.80,65.00 352.10,65.00 352.10,66.80 357.70,66.80 357.70,68.20 367.10,68.80 370.23,68.80 370.23,70.17 373.37,70.17 373.37,71.53 376.50,71.53 376.50,72.90 383.30,73.60 384.65,73.60 384.65,74.90 386.00,74.90 386.00,76.20 395.40,76.20 395.40,78.30 404.80,78.90 414.20,78.90 414.20,80.30 448.80,80.80 450.80,80.80 450.80,82.10 475.80,82.10 477.70,82.10 477.70,83.10 498.80,83.10" fill="none" stroke="#485269" stroke-width="1.3" stroke-linejoin="miter"/>
<polyline points="302.50,32.50 304.00,32.50 304.00,34.50 305.50,34.50 305.50,36.50 312.10,36.50 314.13,36.50 314.13,38.13 316.17,38.13 316.17,39.77 318.20,39.77 318.20,41.40 324.20,41.40 324.20,43.20 326.65,43.20 326.65,45.00 329.10,45.00 329.10,46.80 330.90,46.80 330.90,48.00 332.70,48.00 332.70,49.20 337.60,49.20 337.60,50.50 342.40,50.50 342.40,52.30 345.45,52.30 345.45,53.50 348.50,53.50 348.50,54.70 350.10,54.70 350.10,56.10 351.70,56.10 351.70,57.50 353.30,57.50 353.30,58.90 355.15,58.90 355.15,60.15 357.00,60.15 357.00,61.40 363.10,62.10 365.80,62.10 365.80,63.80 368.50,63.80 368.50,65.50 375.20,66.20 381.90,66.80 391.30,66.80 391.30,67.90 402.10,67.90 402.10,69.50 412.90,69.50 412.90,70.90 420.00,71.30 423.80,71.30 423.80,72.50 431.50,72.50 431.50,73.80 441.20,73.80 441.20,75.40 468.00,75.80 470.00,75.80 470.00,76.70 483.50,77.30 487.30,77.30 487.30,78.30 498.80,78.30" fill="none" stroke="#8a2a4c" stroke-width="1.3" stroke-linejoin="miter"/>
<text x="502.00" y="85.60" font-size="5.0" textLength="9.8" lengthAdjust="spacingAndGlyphs" fill="#4e5a6c" stroke="#4e5a6c" style="stroke-width:0.1px">45%</text>
<text x="502.00" y="79.80" font-size="5.0" textLength="9.8" lengthAdjust="spacingAndGlyphs" fill="#9a4068" stroke="#9a4068" style="stroke-width:0.1px">50%</text>
<text x="341.55" y="88.60" font-size="5.3" text-anchor="middle" fill="#2a2a2a" stroke="#2a2a2a" style="stroke-width:0.12px">No.</text>
<text x="341.95" y="94.90" font-size="5.3" text-anchor="middle" textLength="18.8" lengthAdjust="spacingAndGlyphs" fill="#2a2a2a" stroke="#2a2a2a" style="stroke-width:0.12px">Patients</text>
<text x="362.15" y="88.60" font-size="5.3" text-anchor="middle" fill="#2a2a2a" stroke="#2a2a2a" style="stroke-width:0.12px">No.</text>
<text x="362.65" y="94.90" font-size="5.3" text-anchor="middle" textLength="15.8" lengthAdjust="spacingAndGlyphs" fill="#2a2a2a" stroke="#2a2a2a" style="stroke-width:0.12px">Events</text>
<text x="328.95" y="103.80" font-size="5.3" text-anchor="end" textLength="17.4" lengthAdjust="spacingAndGlyphs" fill="#2a2a2a" stroke="#2a2a2a" style="stroke-width:0.12px">No GO</text>
<text x="328.95" y="113.00" font-size="5.3" text-anchor="end" textLength="9.0" lengthAdjust="spacingAndGlyphs" fill="#2a2a2a" stroke="#2a2a2a" style="stroke-width:0.12px">GO</text>
<text x="341.65" y="104.00" font-size="5.8" text-anchor="middle" fill="#2a2a2a" stroke="#2a2a2a" style="stroke-width:0.12px">121</text>
<text x="341.65" y="113.20" font-size="5.8" text-anchor="middle" fill="#2a2a2a" stroke="#2a2a2a" style="stroke-width:0.12px">132</text>
<text x="362.35" y="104.00" font-size="5.8" text-anchor="middle" fill="#2a2a2a" stroke="#2a2a2a" style="stroke-width:0.12px">72</text>
<text x="362.35" y="113.20" font-size="5.8" text-anchor="middle" fill="#2a2a2a" stroke="#2a2a2a" style="stroke-width:0.12px">72</text>
<text x="385.35" y="103.60" font-size="5.3" textLength="19.8" lengthAdjust="spacingAndGlyphs" fill="#2a2a2a" stroke="#2a2a2a" style="stroke-width:0.12px">2P = 0.3</text>
<text x="273.05" y="144.70" font-size="6.6" textLength="20" lengthAdjust="spacingAndGlyphs" fill="#2a2a2a" stroke="#2a2a2a">At risk:</text>
<text x="292.45" y="154.70" font-size="6.6" text-anchor="end" textLength="20.6" lengthAdjust="spacingAndGlyphs" fill="#2a2a2a" stroke="#2a2a2a">No GO</text>
<text x="292.45" y="164.70" font-size="6.6" text-anchor="end" textLength="10" lengthAdjust="spacingAndGlyphs" fill="#2a2a2a" stroke="#2a2a2a">GO</text>
<text x="302.35" y="154.70" font-size="6.6" text-anchor="middle" fill="#2a2a2a" stroke="#2a2a2a">121</text>
<text x="302.35" y="164.70" font-size="6.6" text-anchor="middle" fill="#2a2a2a" stroke="#2a2a2a">132</text>
<text x="341.56" y="154.70" font-size="6.6" text-anchor="middle" fill="#2a2a2a" stroke="#2a2a2a">78</text>
<text x="341.56" y="164.70" font-size="6.6" text-anchor="middle" fill="#2a2a2a" stroke="#2a2a2a">103</text>
<text x="380.77" y="154.70" font-size="6.6" text-anchor="middle" fill="#2a2a2a" stroke="#2a2a2a">66</text>
<text x="380.77" y="164.70" font-size="6.6" text-anchor="middle" fill="#2a2a2a" stroke="#2a2a2a">82</text>
<text x="419.98" y="154.70" font-size="6.6" text-anchor="middle" fill="#2a2a2a" stroke="#2a2a2a">57</text>
<text x="419.98" y="164.70" font-size="6.6" text-anchor="middle" fill="#2a2a2a" stroke="#2a2a2a">74</text>
<text x="459.19" y="154.70" font-size="6.6" text-anchor="middle" fill="#2a2a2a" stroke="#2a2a2a">54</text>
<text x="459.19" y="164.70" font-size="6.6" text-anchor="middle" fill="#2a2a2a" stroke="#2a2a2a">63</text>
<text x="498.40" y="154.70" font-size="6.6" text-anchor="middle" fill="#2a2a2a" stroke="#2a2a2a">48</text>
<text x="498.40" y="164.70" font-size="6.6" text-anchor="middle" fill="#2a2a2a" stroke="#2a2a2a">50</text>
<text x="360.60" y="183.90" font-size="8.0" textLength="82.7" lengthAdjust="spacingAndGlyphs" fill="#2a2a2a" stroke="#2a2a2a" style="stroke-width:0.02px">CD33 genotype = CT</text>
<line x1="461" y1="191.8" x2="481.1" y2="191.8" stroke="#485269" stroke-width="1.4"/>
<line x1="461" y1="200.8" x2="481.1" y2="200.8" stroke="#8a2a4c" stroke-width="1.4"/>
<text x="484.40" y="193.90" font-size="5.4" textLength="17.9" lengthAdjust="spacingAndGlyphs" fill="#2a2a2a" stroke="#2a2a2a" style="stroke-width:0.12px">No GO</text>
<text x="484.40" y="202.80" font-size="5.4" textLength="9.3" lengthAdjust="spacingAndGlyphs" fill="#2a2a2a" stroke="#2a2a2a" style="stroke-width:0.12px">GO</text>
<line x1="302.35" y1="189.6" x2="302.35" y2="284.2" stroke="#111" stroke-width="1.35"/>
<line x1="299.35" y1="283.5" x2="501.59999999999997" y2="283.5" stroke="#111" stroke-width="1.35"/>
<line x1="299.35" y1="192.20" x2="302.35" y2="192.20" stroke="#111" stroke-width="1.2"/>
<text x="296.05" y="194.60" font-size="6.7" text-anchor="end" textLength="9.9" lengthAdjust="spacingAndGlyphs" fill="#2a2a2a" stroke="#2a2a2a">100</text>
<line x1="299.35" y1="215.02" x2="302.35" y2="215.02" stroke="#111" stroke-width="1.2"/>
<text x="296.05" y="217.42" font-size="6.7" text-anchor="end" textLength="7.0" lengthAdjust="spacingAndGlyphs" fill="#2a2a2a" stroke="#2a2a2a">75</text>
<line x1="299.35" y1="237.85" x2="302.35" y2="237.85" stroke="#111" stroke-width="1.2"/>
<text x="296.05" y="240.25" font-size="6.7" text-anchor="end" textLength="7.0" lengthAdjust="spacingAndGlyphs" fill="#2a2a2a" stroke="#2a2a2a">50</text>
<line x1="299.35" y1="260.68" x2="302.35" y2="260.68" stroke="#111" stroke-width="1.2"/>
<text x="296.05" y="263.07" font-size="6.7" text-anchor="end" textLength="7.0" lengthAdjust="spacingAndGlyphs" fill="#2a2a2a" stroke="#2a2a2a">25</text>
<line x1="299.35" y1="283.50" x2="302.35" y2="283.50" stroke="#111" stroke-width="1.2"/>
<text x="296.05" y="285.90" font-size="6.7" text-anchor="end" textLength="3.6" lengthAdjust="spacingAndGlyphs" fill="#2a2a2a" stroke="#2a2a2a">0</text>
<line x1="302.35" y1="283.5" x2="302.35" y2="286.9" stroke="#111" stroke-width="1.2"/>
<text x="302.35" y="295.10" font-size="6.4" text-anchor="middle" fill="#2a2a2a" stroke="#2a2a2a">0</text>
<line x1="341.56" y1="283.5" x2="341.56" y2="286.9" stroke="#111" stroke-width="1.2"/>
<text x="341.56" y="295.10" font-size="6.4" text-anchor="middle" fill="#2a2a2a" stroke="#2a2a2a">1</text>
<line x1="380.77" y1="283.5" x2="380.77" y2="286.9" stroke="#111" stroke-width="1.2"/>
<text x="380.77" y="295.10" font-size="6.4" text-anchor="middle" fill="#2a2a2a" stroke="#2a2a2a">2</text>
<line x1="419.98" y1="283.5" x2="419.98" y2="286.9" stroke="#111" stroke-width="1.2"/>
<text x="419.98" y="295.10" font-size="6.4" text-anchor="middle" fill="#2a2a2a" stroke="#2a2a2a">3</text>
<line x1="459.19" y1="283.5" x2="459.19" y2="286.9" stroke="#111" stroke-width="1.2"/>
<text x="459.19" y="295.10" font-size="6.4" text-anchor="middle" fill="#2a2a2a" stroke="#2a2a2a">4</text>
<line x1="498.40" y1="283.5" x2="498.40" y2="286.9" stroke="#111" stroke-width="1.2"/>
<text x="498.40" y="295.10" font-size="6.4" text-anchor="middle" fill="#2a2a2a" stroke="#2a2a2a">5</text>
<text x="378.20" y="304.00" font-size="8.2" textLength="48.0" lengthAdjust="spacingAndGlyphs" fill="#2a2a2a" stroke="#2a2a2a">Years from entry</text>
<text transform="translate(280.8,236.4) rotate(-90)" x="0" y="0" font-size="8.6" text-anchor="middle" textLength="21" lengthAdjust="spacingAndGlyphs" fill="#2a2a2a" stroke="#2a2a2a">% alive</text>
<polyline points="302.40,192.40 304.55,192.40 304.55,193.75 306.70,193.75 306.70,195.10 308.75,195.10 308.75,196.45 310.80,196.45 310.80,197.80 317.50,197.80 317.50,199.10 320.85,199.10 320.85,200.45 324.20,200.45 324.20,201.80 326.47,201.80 326.47,203.17 328.73,203.17 328.73,204.53 331.00,204.53 331.00,205.90 335.00,205.90 335.00,207.20 335.65,207.20 335.65,209.20 336.30,209.20 336.30,211.20 337.67,211.20 337.67,212.80 339.03,212.80 339.03,214.40 340.40,214.40 340.40,216.00 343.75,216.00 343.75,218.00 347.10,218.00 347.10,220.00 349.10,220.00 349.10,221.35 351.10,221.35 351.10,222.70 357.90,222.70 357.90,224.70 364.60,224.70 371.20,224.70 371.20,226.10 373.50,226.10 373.50,227.45 375.80,227.45 375.80,228.80 378.10,228.80 378.10,231.20 388.10,231.90 405.00,232.70 406.50,233.50 421.90,233.50 425.80,233.50 425.80,235.00 455.40,235.80 457.00,236.50 466.00,236.50 467.70,236.50 467.70,237.80 499.20,237.80" fill="none" stroke="#485269" stroke-width="1.3" stroke-linejoin="miter"/>
<polyline points="302.40,192.40 303.17,192.40 303.17,194.20 303.93,194.20 303.93,196.00 304.70,196.00 304.70,197.80 308.10,198.50 314.80,198.50 316.13,198.50 316.13,200.27 317.47,200.27 317.47,202.03 318.80,202.03 318.80,203.80 320.60,203.80 320.60,205.17 322.40,205.17 322.40,206.53 324.20,206.53 324.20,207.90 326.90,207.90 326.90,209.55 329.60,209.55 329.60,211.20 331.40,211.20 331.40,212.80 333.20,212.80 333.20,214.40 335.00,214.40 335.00,216.00 337.70,216.00 337.70,217.65 340.40,217.65 340.40,219.30 342.63,219.30 342.63,220.67 344.87,220.67 344.87,222.03 347.10,222.03 347.10,223.40 351.10,223.40 351.10,225.40 356.50,225.40 356.50,227.40 358.55,227.40 358.55,229.10 360.60,229.10 360.60,230.80 365.00,231.20 374.20,231.20 374.20,232.70 377.30,232.70 377.30,234.20 385.00,235.00 392.70,235.00 392.70,237.30 401.90,238.10 406.50,238.10 406.50,239.60 414.20,239.60 414.20,240.70 420.40,240.70 420.40,241.90 428.10,241.90 428.10,243.20 449.20,243.80 450.00,244.70 456.90,245.00 458.50,245.80 486.20,245.80 487.70,245.80 487.70,247.00 499.20,247.00" fill="none" stroke="#8a2a4c" stroke-width="1.3" stroke-linejoin="miter"/>
<text x="502.00" y="239.70" font-size="5.0" textLength="9.8" lengthAdjust="spacingAndGlyphs" fill="#4e5a6c" stroke="#4e5a6c" style="stroke-width:0.1px">50%</text>
<text x="502.00" y="248.30" font-size="5.0" textLength="9.8" lengthAdjust="spacingAndGlyphs" fill="#9a4068" stroke="#9a4068" style="stroke-width:0.1px">40%</text>
<text x="341.55" y="248.60" font-size="5.3" text-anchor="middle" fill="#2a2a2a" stroke="#2a2a2a" style="stroke-width:0.12px">No.</text>
<text x="341.95" y="254.90" font-size="5.3" text-anchor="middle" textLength="18.8" lengthAdjust="spacingAndGlyphs" fill="#2a2a2a" stroke="#2a2a2a" style="stroke-width:0.12px">Patients</text>
<text x="362.15" y="248.60" font-size="5.3" text-anchor="middle" fill="#2a2a2a" stroke="#2a2a2a" style="stroke-width:0.12px">No.</text>
<text x="362.65" y="254.90" font-size="5.3" text-anchor="middle" textLength="15.8" lengthAdjust="spacingAndGlyphs" fill="#2a2a2a" stroke="#2a2a2a" style="stroke-width:0.12px">Events</text>
<text x="328.95" y="263.80" font-size="5.3" text-anchor="end" textLength="17.4" lengthAdjust="spacingAndGlyphs" fill="#2a2a2a" stroke="#2a2a2a" style="stroke-width:0.12px">No GO</text>
<text x="328.95" y="273.00" font-size="5.3" text-anchor="end" textLength="9.0" lengthAdjust="spacingAndGlyphs" fill="#2a2a2a" stroke="#2a2a2a" style="stroke-width:0.12px">GO</text>
<text x="341.65" y="264.00" font-size="5.8" text-anchor="middle" fill="#2a2a2a" stroke="#2a2a2a" style="stroke-width:0.12px">110</text>
<text x="341.65" y="273.20" font-size="5.8" text-anchor="middle" fill="#2a2a2a" stroke="#2a2a2a" style="stroke-width:0.12px">123</text>
<text x="362.35" y="264.00" font-size="5.8" text-anchor="middle" fill="#2a2a2a" stroke="#2a2a2a" style="stroke-width:0.12px">58</text>
<text x="362.35" y="273.20" font-size="5.8" text-anchor="middle" fill="#2a2a2a" stroke="#2a2a2a" style="stroke-width:0.12px">76</text>
<text x="385.35" y="263.60" font-size="5.3" textLength="19.8" lengthAdjust="spacingAndGlyphs" fill="#2a2a2a" stroke="#2a2a2a" style="stroke-width:0.12px">2P = 0.1</text>
<text x="273.05" y="304.60" font-size="6.6" textLength="20" lengthAdjust="spacingAndGlyphs" fill="#2a2a2a" stroke="#2a2a2a">At risk:</text>
<text x="292.45" y="315.00" font-size="6.6" text-anchor="end" textLength="20.6" lengthAdjust="spacingAndGlyphs" fill="#2a2a2a" stroke="#2a2a2a">No GO</text>
<text x="292.45" y="324.80" font-size="6.6" text-anchor="end" textLength="10" lengthAdjust="spacingAndGlyphs" fill="#2a2a2a" stroke="#2a2a2a">GO</text>
<text x="302.35" y="315.00" font-size="6.6" text-anchor="middle" fill="#2a2a2a" stroke="#2a2a2a">110</text>
<text x="302.35" y="324.80" font-size="6.6" text-anchor="middle" fill="#2a2a2a" stroke="#2a2a2a">123</text>
<text x="341.56" y="315.00" font-size="6.6" text-anchor="middle" fill="#2a2a2a" stroke="#2a2a2a">80</text>
<text x="341.56" y="324.80" font-size="6.6" text-anchor="middle" fill="#2a2a2a" stroke="#2a2a2a">87</text>
<text x="380.77" y="315.00" font-size="6.6" text-anchor="middle" fill="#2a2a2a" stroke="#2a2a2a">62</text>
<text x="380.77" y="324.80" font-size="6.6" text-anchor="middle" fill="#2a2a2a" stroke="#2a2a2a">65</text>
<text x="419.98" y="315.00" font-size="6.6" text-anchor="middle" fill="#2a2a2a" stroke="#2a2a2a">60</text>
<text x="419.98" y="324.80" font-size="6.6" text-anchor="middle" fill="#2a2a2a" stroke="#2a2a2a">55</text>
<text x="459.19" y="315.00" font-size="6.6" text-anchor="middle" fill="#2a2a2a" stroke="#2a2a2a">53</text>
<text x="459.19" y="324.80" font-size="6.6" text-anchor="middle" fill="#2a2a2a" stroke="#2a2a2a">44</text>
<text x="498.40" y="315.00" font-size="6.6" text-anchor="middle" fill="#2a2a2a" stroke="#2a2a2a">47</text>
<text x="498.40" y="324.80" font-size="6.6" text-anchor="middle" fill="#2a2a2a" stroke="#2a2a2a">36</text>
<text x="361.50" y="345.90" font-size="8.0" textLength="81.8" lengthAdjust="spacingAndGlyphs" fill="#2a2a2a" stroke="#2a2a2a" style="stroke-width:0.02px">CD33 genotype = TT</text>
<line x1="461.5" y1="353.3" x2="481.7" y2="353.3" stroke="#485269" stroke-width="1.4"/>
<line x1="461.5" y1="362.1" x2="481.7" y2="362.1" stroke="#8a2a4c" stroke-width="1.4"/>
<text x="484.80" y="355.40" font-size="5.4" textLength="17.9" lengthAdjust="spacingAndGlyphs" fill="#2a2a2a" stroke="#2a2a2a" style="stroke-width:0.12px">No GO</text>
<text x="484.80" y="364.10" font-size="5.4" textLength="9.3" lengthAdjust="spacingAndGlyphs" fill="#2a2a2a" stroke="#2a2a2a" style="stroke-width:0.12px">GO</text>
<line x1="302.3" y1="351.0" x2="302.3" y2="446.0" stroke="#111" stroke-width="1.35"/>
<line x1="299.3" y1="445.3" x2="501.59999999999997" y2="445.3" stroke="#111" stroke-width="1.35"/>
<line x1="299.3" y1="353.60" x2="302.3" y2="353.60" stroke="#111" stroke-width="1.2"/>
<text x="296.00" y="356.00" font-size="6.7" text-anchor="end" textLength="9.9" lengthAdjust="spacingAndGlyphs" fill="#2a2a2a" stroke="#2a2a2a">100</text>
<line x1="299.3" y1="376.53" x2="302.3" y2="376.53" stroke="#111" stroke-width="1.2"/>
<text x="296.00" y="378.93" font-size="6.7" text-anchor="end" textLength="7.0" lengthAdjust="spacingAndGlyphs" fill="#2a2a2a" stroke="#2a2a2a">75</text>
<line x1="299.3" y1="399.45" x2="302.3" y2="399.45" stroke="#111" stroke-width="1.2"/>
<text x="296.00" y="401.85" font-size="6.7" text-anchor="end" textLength="7.0" lengthAdjust="spacingAndGlyphs" fill="#2a2a2a" stroke="#2a2a2a">50</text>
<line x1="299.3" y1="422.38" x2="302.3" y2="422.38" stroke="#111" stroke-width="1.2"/>
<text x="296.00" y="424.77" font-size="6.7" text-anchor="end" textLength="7.0" lengthAdjust="spacingAndGlyphs" fill="#2a2a2a" stroke="#2a2a2a">25</text>
<line x1="299.3" y1="445.30" x2="302.3" y2="445.30" stroke="#111" stroke-width="1.2"/>
<text x="296.00" y="447.70" font-size="6.7" text-anchor="end" textLength="3.6" lengthAdjust="spacingAndGlyphs" fill="#2a2a2a" stroke="#2a2a2a">0</text>
<line x1="302.30" y1="445.3" x2="302.30" y2="448.7" stroke="#111" stroke-width="1.2"/>
<text x="302.30" y="456.90" font-size="6.4" text-anchor="middle" fill="#2a2a2a" stroke="#2a2a2a">0</text>
<line x1="341.52" y1="445.3" x2="341.52" y2="448.7" stroke="#111" stroke-width="1.2"/>
<text x="341.52" y="456.90" font-size="6.4" text-anchor="middle" fill="#2a2a2a" stroke="#2a2a2a">1</text>
<line x1="380.74" y1="445.3" x2="380.74" y2="448.7" stroke="#111" stroke-width="1.2"/>
<text x="380.74" y="456.90" font-size="6.4" text-anchor="middle" fill="#2a2a2a" stroke="#2a2a2a">2</text>
<line x1="419.96" y1="445.3" x2="419.96" y2="448.7" stroke="#111" stroke-width="1.2"/>
<text x="419.96" y="456.90" font-size="6.4" text-anchor="middle" fill="#2a2a2a" stroke="#2a2a2a">3</text>
<line x1="459.18" y1="445.3" x2="459.18" y2="448.7" stroke="#111" stroke-width="1.2"/>
<text x="459.18" y="456.90" font-size="6.4" text-anchor="middle" fill="#2a2a2a" stroke="#2a2a2a">4</text>
<line x1="498.40" y1="445.3" x2="498.40" y2="448.7" stroke="#111" stroke-width="1.2"/>
<text x="498.40" y="456.90" font-size="6.4" text-anchor="middle" fill="#2a2a2a" stroke="#2a2a2a">5</text>
<text x="378.20" y="465.80" font-size="8.2" textLength="48.0" lengthAdjust="spacingAndGlyphs" fill="#2a2a2a" stroke="#2a2a2a">Years from entry</text>
<text transform="translate(280.8,397.5) rotate(-90)" x="0" y="0" font-size="8.6" text-anchor="middle" textLength="21" lengthAdjust="spacingAndGlyphs" fill="#2a2a2a" stroke="#2a2a2a">% alive</text>
<polyline points="302.30,353.80 304.50,358.40 310.70,358.40 310.70,367.50 318.00,367.50 318.00,372.10 325.00,372.10 325.00,376.60 337.60,376.60 337.60,381.20 355.30,381.20 355.30,385.80 361.40,385.80 361.40,390.30 373.50,390.30 373.50,394.90 399.50,394.90 399.50,399.50 406.40,399.50 406.40,404.00 456.50,404.00 456.50,408.60 498.80,408.60" fill="none" stroke="#485269" stroke-width="1.3" stroke-linejoin="miter"/>
<polyline points="302.30,353.80 305.00,362.90 318.20,362.90 318.20,366.00 321.30,366.00 321.30,369.00 332.80,369.00 332.80,372.10 337.60,372.10 337.60,378.20 342.30,378.20 342.30,383.50 354.50,383.50 354.50,387.40 376.80,387.40 376.80,390.50 482.50,390.50 482.50,393.80 498.80,393.80" fill="none" stroke="#8a2a4c" stroke-width="1.3" stroke-linejoin="miter"/>
<text x="502.00" y="410.60" font-size="5.0" textLength="9.8" lengthAdjust="spacingAndGlyphs" fill="#4e5a6c" stroke="#4e5a6c" style="stroke-width:0.1px">40%</text>
<text x="502.00" y="396.10" font-size="5.0" textLength="9.8" lengthAdjust="spacingAndGlyphs" fill="#9a4068" stroke="#9a4068" style="stroke-width:0.1px">56%</text>
<text x="341.50" y="416.40" font-size="5.3" text-anchor="middle" fill="#2a2a2a" stroke="#2a2a2a" style="stroke-width:0.12px">No.</text>
<text x="341.90" y="422.90" font-size="5.3" text-anchor="middle" textLength="18.8" lengthAdjust="spacingAndGlyphs" fill="#2a2a2a" stroke="#2a2a2a" style="stroke-width:0.12px">Patients</text>
<text x="362.10" y="416.40" font-size="5.3" text-anchor="middle" fill="#2a2a2a" stroke="#2a2a2a" style="stroke-width:0.12px">No.</text>
<text x="362.60" y="422.90" font-size="5.3" text-anchor="middle" textLength="15.8" lengthAdjust="spacingAndGlyphs" fill="#2a2a2a" stroke="#2a2a2a" style="stroke-width:0.12px">Events</text>
<text x="328.90" y="431.90" font-size="5.3" text-anchor="end" textLength="17.4" lengthAdjust="spacingAndGlyphs" fill="#2a2a2a" stroke="#2a2a2a" style="stroke-width:0.12px">No GO</text>
<text x="328.90" y="440.70" font-size="5.3" text-anchor="end" textLength="9.0" lengthAdjust="spacingAndGlyphs" fill="#2a2a2a" stroke="#2a2a2a" style="stroke-width:0.12px">GO</text>
<text x="341.60" y="432.10" font-size="5.8" text-anchor="middle" fill="#2a2a2a" stroke="#2a2a2a" style="stroke-width:0.12px">20</text>
<text x="341.60" y="440.90" font-size="5.8" text-anchor="middle" fill="#2a2a2a" stroke="#2a2a2a" style="stroke-width:0.12px">30</text>
<text x="362.30" y="432.10" font-size="5.8" text-anchor="middle" fill="#2a2a2a" stroke="#2a2a2a" style="stroke-width:0.12px">12</text>
<text x="362.30" y="440.90" font-size="5.8" text-anchor="middle" fill="#2a2a2a" stroke="#2a2a2a" style="stroke-width:0.12px">13</text>
<text x="385.30" y="431.70" font-size="5.3" textLength="19.8" lengthAdjust="spacingAndGlyphs" fill="#2a2a2a" stroke="#2a2a2a" style="stroke-width:0.12px">2P = 0.4</text>
<text x="273.00" y="466.90" font-size="6.6" textLength="20" lengthAdjust="spacingAndGlyphs" fill="#2a2a2a" stroke="#2a2a2a">At risk:</text>
<text x="292.40" y="476.70" font-size="6.6" text-anchor="end" textLength="20.6" lengthAdjust="spacingAndGlyphs" fill="#2a2a2a" stroke="#2a2a2a">No GO</text>
<text x="292.40" y="486.20" font-size="6.6" text-anchor="end" textLength="10" lengthAdjust="spacingAndGlyphs" fill="#2a2a2a" stroke="#2a2a2a">GO</text>
<text x="302.30" y="476.70" font-size="6.6" text-anchor="middle" fill="#2a2a2a" stroke="#2a2a2a">20</text>
<text x="302.30" y="486.20" font-size="6.6" text-anchor="middle" fill="#2a2a2a" stroke="#2a2a2a">30</text>
<text x="341.52" y="476.70" font-size="6.6" text-anchor="middle" fill="#2a2a2a" stroke="#2a2a2a">14</text>
<text x="341.52" y="486.20" font-size="6.6" text-anchor="middle" fill="#2a2a2a" stroke="#2a2a2a">22</text>
<text x="380.74" y="476.70" font-size="6.6" text-anchor="middle" fill="#2a2a2a" stroke="#2a2a2a">11</text>
<text x="380.74" y="486.20" font-size="6.6" text-anchor="middle" fill="#2a2a2a" stroke="#2a2a2a">18</text>
<text x="419.96" y="476.70" font-size="6.6" text-anchor="middle" fill="#2a2a2a" stroke="#2a2a2a">9</text>
<text x="419.96" y="486.20" font-size="6.6" text-anchor="middle" fill="#2a2a2a" stroke="#2a2a2a">17</text>
<text x="459.18" y="476.70" font-size="6.6" text-anchor="middle" fill="#2a2a2a" stroke="#2a2a2a">8</text>
<text x="459.18" y="486.20" font-size="6.6" text-anchor="middle" fill="#2a2a2a" stroke="#2a2a2a">16</text>
<text x="498.40" y="476.70" font-size="6.6" text-anchor="middle" fill="#2a2a2a" stroke="#2a2a2a">8</text>
<text x="498.40" y="486.20" font-size="6.6" text-anchor="middle" fill="#2a2a2a" stroke="#2a2a2a">12</text>
<rect x="0.5" y="0.5" width="519" height="494" fill="none" stroke="#000" stroke-width="1.1"/>
</svg>
</body></html>
